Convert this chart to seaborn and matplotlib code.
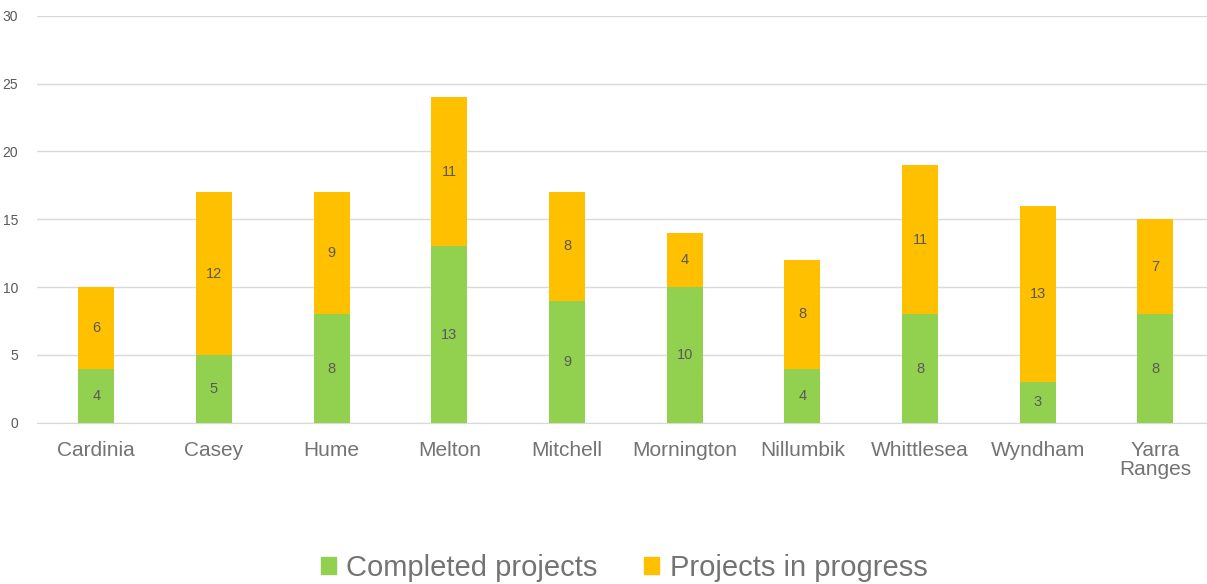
import matplotlib
matplotlib.use("Agg")
import matplotlib.pyplot as plt
from matplotlib.patches import Patch
import seaborn as sns
import pandas as pd

councils = ["Cardinia", "Casey", "Hume", "Melton", "Mitchell", "Mornington",
            "Nillumbik", "Whittlesea", "Wyndham", "Yarra\nRanges"]
completed = [4, 5, 8, 13, 9, 10, 4, 8, 3, 8]
in_progress = [6, 12, 9, 11, 8, 4, 8, 11, 13, 7]

green = "#92D050"
orange = "#FFC000"
grey = "#595959"

sns.set_style("white")
plt.rcParams['font.family'] = ['Liberation Sans', 'DejaVu Sans']

df = pd.DataFrame({"council": councils, "completed": completed,
                   "in_progress": in_progress})
df["total"] = df["completed"] + df["in_progress"]

fig = plt.figure(figsize=(12.07, 5.84), dpi=100)
ax = fig.add_axes([0.031, 0.276, 0.975, 0.697])

# stacked: total drawn in orange, completed drawn over it in green
sns.barplot(data=df, x="council", y="total", color=orange, width=0.306,
            saturation=1, ax=ax, zorder=2, linewidth=0)
sns.barplot(data=df, x="council", y="completed", color=green, width=0.306,
            saturation=1, ax=ax, zorder=3, linewidth=0)

for i, (c, p) in enumerate(zip(completed, in_progress)):
    ax.text(i, c / 2, str(c), ha='center', va='center', fontsize=10.5, color=grey, zorder=4)
    ax.text(i, c + p / 2, str(p), ha='center', va='center', fontsize=10.5, color=grey, zorder=4)

ax.set_ylim(0, 30)
ax.set_yticks(range(0, 31, 5))
ax.set_xlim(-0.5, len(councils) - 0.5)
ax.yaxis.grid(True, color="#D9D9D9", linewidth=1, zorder=0)
ax.set_axisbelow(True)
for s in ["top", "right", "left"]:
    ax.spines[s].set_visible(False)
ax.spines["bottom"].set_color("#D9D9D9")
ax.set_xlabel("")
ax.set_ylabel("")
ax.tick_params(axis='y', labelsize=10, colors=grey, length=0, pad=14)
ax.tick_params(axis='x', labelsize=15, colors=grey, length=0, pad=13)
for t in ax.get_xticklabels():
    t.set_color("#737373")
    t.set_linespacing(1.0)

handles = [Patch(color=green, label="Completed projects"),
           Patch(color=orange, label="Projects in progress")]
leg = fig.legend(handles=handles, loc='lower center', ncol=2, frameon=False,
                 fontsize=21, bbox_to_anchor=(0.517, -0.042), handlelength=0.52,
                 handleheight=0.52, handletextpad=0.35, columnspacing=1.6)
for t in leg.get_texts():
    t.set_color("#737373")

fig.savefig("out.png", dpi=100)
